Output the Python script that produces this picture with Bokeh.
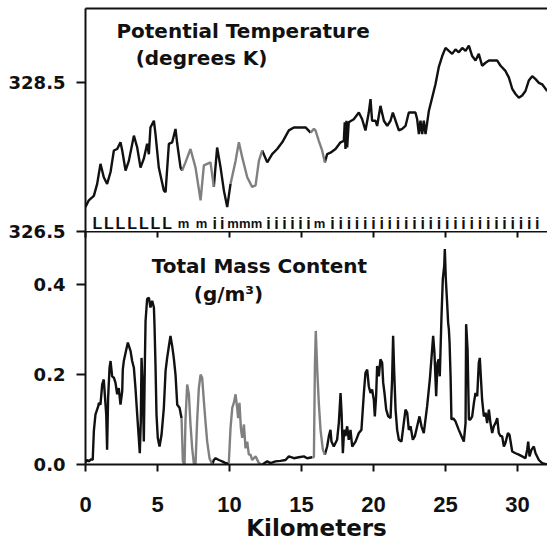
from bokeh.plotting import figure
from bokeh.layouts import column
from bokeh.models import (FixedTicker, LinearAxis, Range1d, ColumnDataSource, Label,
                          PrintfTickFormatter, CustomLabelingPolicy)
from bokeh.core.properties import value
from bokeh.embed import file_html
from bokeh.resources import INLINE

# ---------------- data ----------------
top_km = [0.00, 0.23, 0.58, 0.81, 1.04, 1.27, 1.50, 1.74, 1.97, 2.20, 2.43, 2.55, 2.78, 3.01,
          3.36, 3.59, 3.82, 4.05, 4.28, 4.40, 4.51, 4.75, 4.86, 5.09, 5.44, 5.56, 5.79, 6.02,
          6.25, 6.37, 6.60, 6.71, 6.94, 7.29, 7.64, 7.99, 8.22, 8.45, 8.68, 8.91, 9.14, 9.38,
          9.61, 9.84, 10.07, 10.42, 10.65, 10.88, 11.23, 11.57, 11.81, 12.04, 12.27, 12.62,
          12.96, 13.31, 13.66, 14.12, 14.47, 14.81, 15.28, 15.63, 15.86, 15.97, 16.20, 16.43,
          16.62, 16.78, 17.01, 17.36, 17.71, 17.94, 18.00, 18.05, 18.12, 18.17, 18.28, 18.63,
          18.98, 19.21, 19.44, 19.67, 19.79, 19.90, 20.14, 20.25, 20.48, 20.72, 20.95, 21.18,
          21.34, 21.53, 21.76, 21.99, 22.22, 22.45, 22.91, 23.03, 23.15, 23.26, 23.38, 23.49,
          23.61, 23.84, 24.07, 24.30, 24.53, 24.77, 25.00, 25.23, 25.46, 25.69, 25.92, 26.16,
          26.39, 26.62, 26.85, 27.08, 27.31, 27.54, 27.78, 28.01, 28.59, 28.82, 29.16, 29.40,
          29.63, 29.86, 30.09, 30.32, 30.55, 30.78, 31.02, 31.25, 31.48, 31.71, 32.06]
top_theta = [326.83, 326.92, 326.98, 327.14, 327.41, 327.23, 327.14, 327.30, 327.59, 327.61,
             327.70, 327.59, 327.32, 327.45, 327.79, 327.63, 327.36, 327.48, 327.68, 327.54,
             327.90, 327.99, 327.81, 327.36, 327.05, 327.03, 327.68, 327.70, 327.88, 327.68,
             327.36, 327.32, 327.43, 327.61, 327.36, 326.92, 327.39, 327.41, 327.43, 327.10,
             327.63, 327.36, 327.05, 326.83, 327.14, 327.45, 327.70, 327.50, 327.23, 327.10,
             327.12, 327.45, 327.59, 327.43, 327.54, 327.61, 327.70, 327.86, 327.90, 327.90,
             327.90, 327.83, 327.88, 327.86, 327.72, 327.59, 327.43, 327.54, 327.56, 327.61,
             327.70, 327.72, 327.97, 327.61, 327.99, 327.63, 327.97, 328.01, 328.10, 328.01,
             327.86, 328.10, 328.28, 327.99, 327.99, 327.92, 328.19, 327.99, 327.92, 327.99,
             328.10, 327.99, 327.86, 327.88, 327.92, 328.10, 328.10, 328.01, 327.81, 327.99,
             327.81, 327.99, 327.81, 328.12, 328.30, 328.48, 328.71, 328.86, 328.97, 328.93,
             328.89, 328.95, 328.91, 328.97, 328.93, 329.00, 328.86, 328.80, 328.89, 328.73,
             328.77, 328.80, 328.80, 328.73, 328.66, 328.57, 328.42, 328.35, 328.30, 328.33,
             328.39, 328.53, 328.59, 328.55, 328.50, 328.48, 328.39]

bot_km = [0.00, 0.12, 0.23, 0.40, 0.50, 0.58, 0.69, 0.88, 0.93, 1.04, 1.16, 1.27, 1.34, 1.44,
          1.50, 1.57, 1.67, 1.74, 1.85, 1.97, 2.08, 2.20, 2.31, 2.43, 2.55, 2.59, 2.66, 2.78,
          2.94, 3.13, 3.24, 3.36, 3.47, 3.59, 3.70, 3.77, 3.84, 3.89, 3.98, 4.05, 4.12, 4.17,
          4.28, 4.40, 4.51, 4.63, 4.75, 4.79, 4.86, 4.93, 5.02, 5.14, 5.28, 5.44, 5.56, 5.67,
          5.79, 5.90, 6.02, 6.13, 6.25, 6.37, 6.53, 6.67, 6.76, 6.88,
          6.94, 7.06, 7.18, 7.29, 7.41, 7.52, 7.64, 7.75, 7.87, 7.99, 8.10, 8.22, 8.33, 8.45,
          8.61, 8.80, 8.91, 9.03, 9.26, 9.49, 9.72, 9.95,
          10.07, 10.19, 10.30, 10.42, 10.53, 10.60, 10.69, 10.79, 10.88, 11.00, 11.11, 11.23,
          11.34, 11.46, 11.57, 11.81, 12.04, 12.27,
          12.38, 12.62, 12.85, 13.19, 13.54, 13.89, 14.12, 14.47, 14.81, 15.16, 15.39, 15.74,
          15.86, 15.93, 15.99, 16.09, 16.20, 16.32, 16.48, 16.62,
          16.78, 16.90, 17.01, 17.08, 17.24, 17.47, 17.59, 17.71, 17.78, 17.87, 17.96, 18.05,
          18.17, 18.28, 18.40, 18.52, 18.75, 18.98, 19.16, 19.33, 19.44, 19.56, 19.67, 19.79,
          19.90, 20.02, 20.09, 20.18, 20.25, 20.37, 20.48, 20.60, 20.67, 20.76, 20.88, 21.02,
          21.18, 21.29, 21.36, 21.43, 21.53, 21.64, 21.76, 21.94, 22.10, 22.22, 22.34, 22.45,
          22.57, 22.73, 22.87, 23.03, 23.19, 23.33, 23.49, 23.72, 23.91, 24.07, 24.14, 24.23,
          24.35, 24.44, 24.53, 24.60, 24.72, 24.81, 24.91, 24.95, 25.02, 25.11, 25.18, 25.23,
          25.28, 25.35, 25.41, 25.53, 25.69, 25.92, 26.11, 26.27, 26.39, 26.43, 26.53, 26.62,
          26.73, 26.85, 26.97, 27.08, 27.20, 27.31, 27.38, 27.45, 27.54, 27.66, 27.78, 27.89,
          28.01, 28.12, 28.24, 28.35, 28.47, 28.59, 28.70, 28.82, 28.93, 29.05, 29.16, 29.33,
          29.44, 29.63, 29.86, 30.09, 30.32, 30.55, 30.67, 30.74, 30.83, 30.97, 31.13, 31.25,
          31.48, 31.71, 32.06]
bot_mass = [0.005, 0.010, 0.007, 0.012, 0.010, 0.074, 0.111, 0.129, 0.137, 0.133, 0.178, 0.189,
            0.156, 0.111, 0.033, 0.148, 0.215, 0.230, 0.196, 0.193, 0.182, 0.156, 0.170, 0.133,
            0.163, 0.211, 0.230, 0.248, 0.271, 0.252, 0.230, 0.215, 0.170, 0.111, 0.059, 0.025,
            0.096, 0.237, 0.163, 0.051, 0.222, 0.319, 0.368, 0.371, 0.349, 0.364, 0.349, 0.312,
            0.222, 0.111, 0.059, 0.040, 0.066, 0.126, 0.208, 0.237, 0.263, 0.286, 0.263, 0.237,
            0.200, 0.133, 0.126, 0.103, 0.007, 0.000,
            0.096, 0.178, 0.156, 0.089, 0.036, 0.003, 0.000, 0.096, 0.170, 0.200, 0.193, 0.141,
            0.096, 0.051, 0.014, 0.000, 0.010, 0.014, 0.010, 0.007, 0.003, 0.003,
            0.081, 0.126, 0.137, 0.156, 0.126, 0.103, 0.137, 0.081, 0.059, 0.089, 0.036, 0.051,
            0.022, 0.022, 0.010, 0.018, 0.003, 0.000,
            0.002, 0.007, 0.003, 0.007, 0.008, 0.010, 0.018, 0.014, 0.016, 0.018, 0.014, 0.016,
            0.016, 0.220, 0.297, 0.211, 0.137, 0.077, 0.033, 0.022,
            0.040, 0.063, 0.077, 0.051, 0.040, 0.055, 0.092, 0.159, 0.115, 0.025, 0.077, 0.063,
            0.085, 0.055, 0.077, 0.040, 0.051, 0.070, 0.077, 0.159, 0.204, 0.211, 0.174, 0.159,
            0.167, 0.144, 0.107, 0.152, 0.219, 0.196, 0.234, 0.226, 0.182, 0.159, 0.122, 0.107,
            0.103, 0.189, 0.286, 0.211, 0.122, 0.077, 0.055, 0.051, 0.092, 0.122, 0.115, 0.077,
            0.085, 0.055, 0.063, 0.085, 0.107, 0.085, 0.070, 0.129, 0.189, 0.256, 0.286, 0.248,
            0.152, 0.226, 0.234, 0.196, 0.330, 0.412, 0.442, 0.479, 0.412, 0.360, 0.315, 0.301,
            0.271, 0.196, 0.100, 0.103, 0.096, 0.077, 0.063, 0.051, 0.092, 0.312, 0.256, 0.100,
            0.100, 0.107, 0.137, 0.159, 0.152, 0.226, 0.237, 0.196, 0.144, 0.107, 0.115, 0.092,
            0.122, 0.092, 0.070, 0.085, 0.092, 0.103, 0.070, 0.063, 0.063, 0.040, 0.048, 0.070,
            0.066, 0.029, 0.025, 0.022, 0.018, 0.014, 0.033, 0.051, 0.018, 0.033, 0.040, 0.025,
            0.010, 0.003, 0.000]

# segments classified as mixed phase (drawn in gray), km
mixed_start = [6.70, 10.00, 15.60]
mixed_end = [8.85, 12.30, 16.70]

# particle-type letters along the track
class_labels = list("LLLLLLLmmiimmmiiiiiim") + ["i"] * 26
class_km = [0.83, 1.62, 2.43, 3.24, 4.05, 4.86, 5.67, 6.80, 8.06, 8.98, 9.49, 10.25, 11.06,
            11.88, 12.71, 13.26, 13.82, 14.38, 14.93, 15.49, 16.25] + \
           [17.15 + 0.569 * k for k in range(26)]

km_ticks = [0, 5, 10, 15, 20, 25, 30]
temp_ticks = [326.5, 328.5]
mass_ticks = [0.0, 0.2, 0.4]

# ---------------- styling ----------------
FONT = "DejaVu Sans"
FONT2 = "Liberation Sans"
BLACK = "#111111"
GRAY = "#808080"
LW = 2.4


def split_segments(xs, ys):
    out = {True: ([], []), False: ([], [])}
    cur, sx, sy = None, [], []
    for i in range(len(xs) - 1):
        mid = 0.5 * (xs[i] + xs[i + 1])
        g = any(a <= mid <= b for a, b in zip(mixed_start, mixed_end))
        if g != cur:
            if sx:
                out[cur][0].append(sx)
                out[cur][1].append(sy)
            sx, sy, cur = [xs[i]], [ys[i]], g
        sx.append(xs[i + 1])
        sy.append(ys[i + 1])
    if sx:
        out[cur][0].append(sx)
        out[cur][1].append(sy)
    return out


def style_axis(ax, size, font=FONT):
    ax.axis_line_width = 2
    ax.axis_line_color = BLACK
    ax.major_tick_line_width = 2
    ax.major_tick_line_color = BLACK
    ax.minor_tick_line_color = None
    ax.major_label_text_font = font
    ax.major_label_text_font_style = "bold"
    ax.major_label_text_font_size = size
    ax.major_label_text_color = BLACK


def bare_axis(ticks, tick_in):
    ax = LinearAxis(ticker=FixedTicker(ticks=ticks),
                    major_label_policy=CustomLabelingPolicy(code="return []"))
    style_axis(ax, "0px")
    ax.major_tick_out = 0
    ax.major_tick_in = tick_in
    ax.major_label_standoff = 0
    return ax


def title_label(x, y, text, size="20px"):
    return Label(x=x, y=y, text=text, text_font=FONT, text_font_style="bold",
                 text_font_size=size, text_align="center", text_baseline="middle",
                 text_color=BLACK)


xr = Range1d(0, 32.08)
OVERLAP = 10

# ---- top panel ----
p1 = figure(width=547, height=231 + OVERLAP, x_range=xr, y_range=Range1d(326.5, 329.5),
            output_backend="svg", toolbar_location=None,
            x_axis_location=None, y_axis_location=None,
            min_border_left=85, min_border_right=0, min_border_top=8,
            min_border_bottom=OVERLAP)
p1.outline_line_color = None
p1.grid.grid_line_color = None

ly1 = LinearAxis(ticker=FixedTicker(ticks=temp_ticks))
style_axis(ly1, "18px")
ly1.major_tick_out = 9
ly1.major_tick_in = 0
ly1.major_label_standoff = 11
p1.add_layout(ly1, "left")

p1.add_layout(bare_axis([], 0), "above")

segs = split_segments(top_km, top_theta)
p1.multi_line(xs=segs[False][0], ys=segs[False][1], line_color=BLACK, line_width=LW)
p1.multi_line(xs=segs[True][0], ys=segs[True][1], line_color=GRAY, line_width=LW)

size_map = {"L": "16px", "m": "13px", "i": "16px"}
letters = ColumnDataSource(dict(x=class_km, t=class_labels,
                                s=[size_map[c] for c in class_labels]))
p1.text(x="x", y=326.605, text="t", source=letters, text_font=value(FONT2),
        text_font_style="bold", text_font_size="s", text_align="center",
        text_baseline="alphabetic", text_color=BLACK)

p1.add_layout(title_label(10.94, 329.20, "Potential Temperature"))
p1.add_layout(title_label(8.06, 328.83, "(degrees K)"))

# ---- bottom panel (overlaps the top figure's lower border so 326.5 is not clipped) ----
p2 = figure(width=547, height=313, x_range=xr, y_range=Range1d(0, 0.518),
            output_backend="svg", toolbar_location=None,
            x_axis_location=None, y_axis_location=None,
            min_border_left=85, min_border_right=0, min_border_top=0, min_border_bottom=80)
p2.outline_line_color = None
p2.grid.grid_line_color = None
p2.background_fill_alpha = 0
p2.border_fill_alpha = 0
p2.margin = (-OVERLAP, 0, 0, 0)

ly2 = LinearAxis(ticker=FixedTicker(ticks=mass_ticks), formatter=PrintfTickFormatter(format="%.1f"))
style_axis(ly2, "18px")
ly2.major_tick_out = 9
ly2.major_tick_in = 0
ly2.major_label_standoff = 11
p2.add_layout(ly2, "left")

bx = LinearAxis(ticker=FixedTicker(ticks=km_ticks), axis_label="Kilometers")
style_axis(bx, "22px", FONT2)
bx.major_tick_out = 7
bx.major_tick_in = 0
bx.major_label_standoff = 25
bx.axis_label_text_font = FONT
bx.axis_label_text_font_style = "bold"
bx.axis_label_text_font_size = "23px"
bx.axis_label_text_color = BLACK
bx.axis_label_standoff = 0
p2.add_layout(bx, "below")

p2.add_layout(bare_axis(km_ticks, 6), "above")

segs2 = split_segments(bot_km, bot_mass)
p2.multi_line(xs=segs2[False][0], ys=segs2[False][1], line_color=BLACK, line_width=LW)
p2.multi_line(xs=segs2[True][0], ys=segs2[True][1], line_color=GRAY, line_width=LW)

p2.add_layout(title_label(12.08, 0.441, "Total Mass Content"))
p2.add_layout(title_label(9.93, 0.379, "(g/m³)"))

layout = column(p1, p2, spacing=0)
open("out.html", "w").write(file_html(layout, INLINE))
